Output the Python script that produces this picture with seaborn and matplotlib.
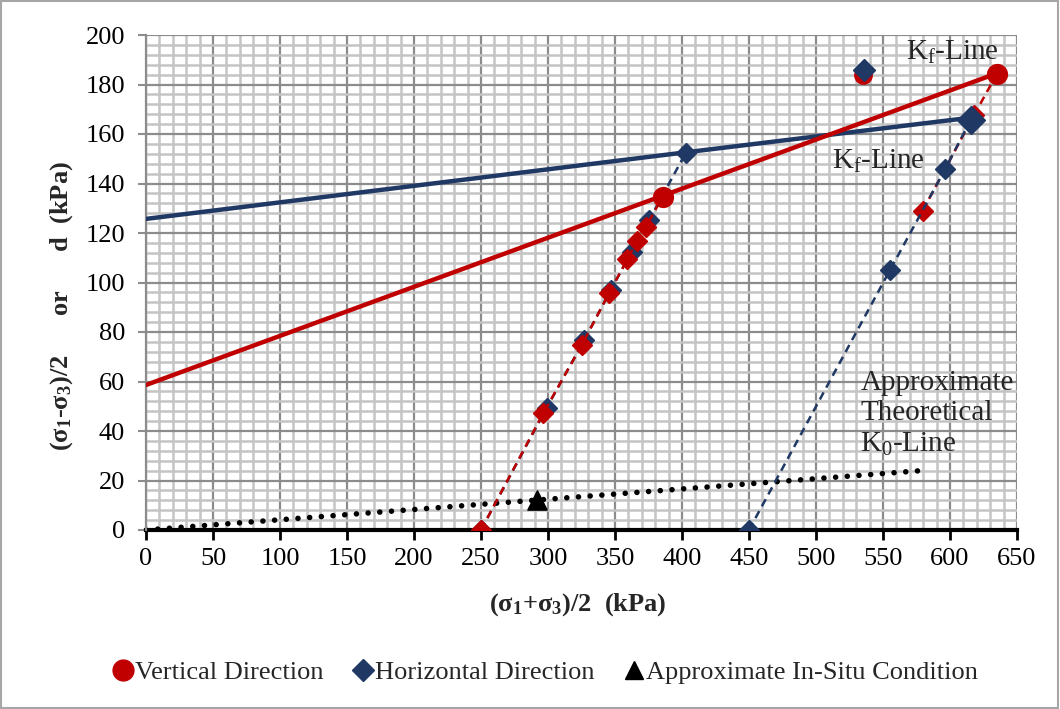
import numpy as np
import pandas as pd
import matplotlib
matplotlib.use("Agg")
import matplotlib.pyplot as plt
import seaborn as sns
from matplotlib.ticker import MultipleLocator
from matplotlib.lines import Line2D

# ---- data ----
vert_left_x = [250, 296.5, 325.2, 345.8, 359.2, 366.7, 372.9, 385.6]
vert_left_y = [0, 47.2, 74.7, 95.9, 109.4, 116.9, 122.3, 134.7]
vert_right_x = [579.6, 618.0, 634.9]
vert_right_y = [129.0, 167.7, 184.2]
horiz_left_x = [250, 299.0, 327.1, 346.8, 362.5, 375.6, 402.8]
horiz_left_y = [0, 49.4, 76.8, 97.0, 112.4, 125.3, 152.4]
horiz_right_x = [450, 555.2, 596.3, 615.5]
horiz_right_y = [0, 105.0, 145.7, 165.7]
vert_fail_x = [385.6, 634.9]
vert_fail_y = [134.7, 184.2]
vert_label_pt = (535.4, 183.8)
horiz_label_pt = (536.1, 185.9)
kf_vert_x = [0, 634.9]
kf_vert_y = [58.6, 184.5]
kf_horiz_x = [0, 402.8, 615.5]
kf_horiz_y = [125.7, 152.6, 166.6]
k0_x = [0, 583.6]
k0_y = [0, 24.2]
insitu_x = [291.8]
insitu_y = [12.1]

RED = "#C00000"
NAVY = "#1F3864"

sns.set_theme(style="white")
plt.rcParams['font.family'] = ['Liberation Serif', 'DejaVu Serif']
plt.rcParams['mathtext.fontset'] = 'custom'
plt.rcParams['mathtext.rm'] = 'Liberation Serif'
plt.rcParams['mathtext.it'] = 'Liberation Serif:italic'
plt.rcParams['mathtext.bf'] = 'Liberation Serif:bold'

fig = plt.figure(figsize=(10.6, 7.09), dpi=100)
ax = fig.add_axes([146/1060, 1-530/709, (1017-146)/1060, (530-35)/709])

# grid
ax.set_xlim(0, 650)
ax.set_ylim(0, 200)
ax.xaxis.set_major_locator(MultipleLocator(50))
ax.xaxis.set_minor_locator(MultipleLocator(10))
ax.yaxis.set_major_locator(MultipleLocator(20))
ax.yaxis.set_minor_locator(MultipleLocator(4))
ax.grid(which='minor', color='#C4C4C4', linewidth=1.8, zorder=0)
ax.grid(which='major', color='#8C8C8C', linewidth=1.6, zorder=0)
ax.set_axisbelow(True)

# K0 line
sns.lineplot(x=k0_x, y=k0_y, ax=ax, color='black', linestyle=(0, (0.01, 2.1)),
             linewidth=4.0, zorder=2)
ax.lines[-1].set_dash_capstyle('round')

# Kf lines
sns.lineplot(x=kf_horiz_x, y=kf_horiz_y, ax=ax, color=NAVY, linewidth=3.2, zorder=3, sort=False)
sns.lineplot(x=kf_vert_x, y=kf_vert_y, ax=ax, color=RED, linewidth=3.2, zorder=3, sort=False)

# stress paths
def path(xs, ys, color, z, ms):
    ax.plot(xs, ys, color=color, linestyle=(0, (3.2, 2.2)), linewidth=1.8,
            marker='D', markersize=ms, markerfacecolor=color, markeredgecolor=color, zorder=z)

path(vert_right_x, vert_right_y, RED, 4, 10.5)
path(horiz_right_x, horiz_right_y, NAVY, 5, 10.5)
path(horiz_left_x, horiz_left_y, NAVY, 4, 10.5)
path(vert_left_x, vert_left_y, RED, 5, 10.5)
ax.plot(horiz_right_x[-1:], horiz_right_y[-1:], 'D', color=NAVY, markersize=14, zorder=6)

sns.scatterplot(x=vert_fail_x, y=vert_fail_y, ax=ax, color=RED, s=200, marker='o',
                edgecolor=RED, zorder=7)
ax.plot([vert_label_pt[0]], [vert_label_pt[1]], 'o', color=RED, markersize=12.5, zorder=7)
ax.plot([horiz_label_pt[0]], [horiz_label_pt[1]], 'D', color=NAVY, markersize=11, zorder=8)
sns.scatterplot(x=insitu_x, y=insitu_y, ax=ax, color='black', s=190, marker='^',
                edgecolor='black', zorder=8)

# annotations
ax.text(567, 193, r'K$_{\mathregular{f}}$-Line', fontsize=21, va='center', ha='left')
ax.text(512, 149, r'K$_{\mathregular{f}}$-Line', fontsize=21, va='center', ha='left')
ax.text(533, 47, 'Approximate\nTheoretical\n' + r'K$_{\mathregular{0}}$-Line', fontsize=21,
        va='center', ha='left', linespacing=1.22)

# spines/ticks
for s in ['top', 'right']:
    ax.spines[s].set_visible(False)
ax.spines['left'].set_color('#8C8C8C')
ax.spines['left'].set_linewidth(1.6)
ax.spines['bottom'].set_color('black')
ax.spines['bottom'].set_linewidth(3)
ax.spines['bottom'].set_zorder(1)
ax.tick_params(axis='x', which='major', direction='out', length=7, width=2, color='black',
               labelsize=19, pad=6, bottom=True)
ax.tick_params(axis='y', which='major', direction='out', length=6, width=1.5, color='#8C8C8C',
               labelsize=19, pad=9, left=True)
ax.tick_params(which='minor', length=0)
for lab in ax.get_xticklabels() + ax.get_yticklabels():
    lab.set_color('black')

ax.set_xlabel(r'($\mathbf{\sigma}_{\mathbf{1}}$+$\mathbf{\sigma}_{\mathbf{3}}$)/2  (kPa)',
              fontsize=19, fontweight='bold')
ax.set_ylabel(r'($\mathbf{\sigma}_{\mathbf{1}}$-$\mathbf{\sigma}_{\mathbf{3}}$)/2      or      d  (kPa)',
              fontsize=19, fontweight='bold')
ax.xaxis.set_label_coords((578-146)/871, (530-591)/495)
ax.yaxis.set_label_coords((75-146)/871, (530-306)/495)

# legend
handles = [
    Line2D([], [], marker='o', color=RED, linestyle='none', markersize=15),
    Line2D([], [], marker='D', color=NAVY, linestyle='none', markersize=11),
    Line2D([], [], marker='^', color='black', linestyle='none', markersize=13),
]
labels = ['Vertical Direction', 'Horizontal Direction', 'Approximate In-Situ Condition']
fig.legend(handles, labels, loc='center', bbox_to_anchor=(545/1060, 1-672/709), ncol=3,
           frameon=False, fontsize=19, handletextpad=0.05, columnspacing=1.1, handlelength=0.8)

# outer frame
fig.patches.append(plt.Rectangle((0.001, 0.001), 0.997, 0.997, transform=fig.transFigure,
                                 fill=False, edgecolor='#A6A6A6', linewidth=1.5))

fig.savefig('out.png', dpi=100)
